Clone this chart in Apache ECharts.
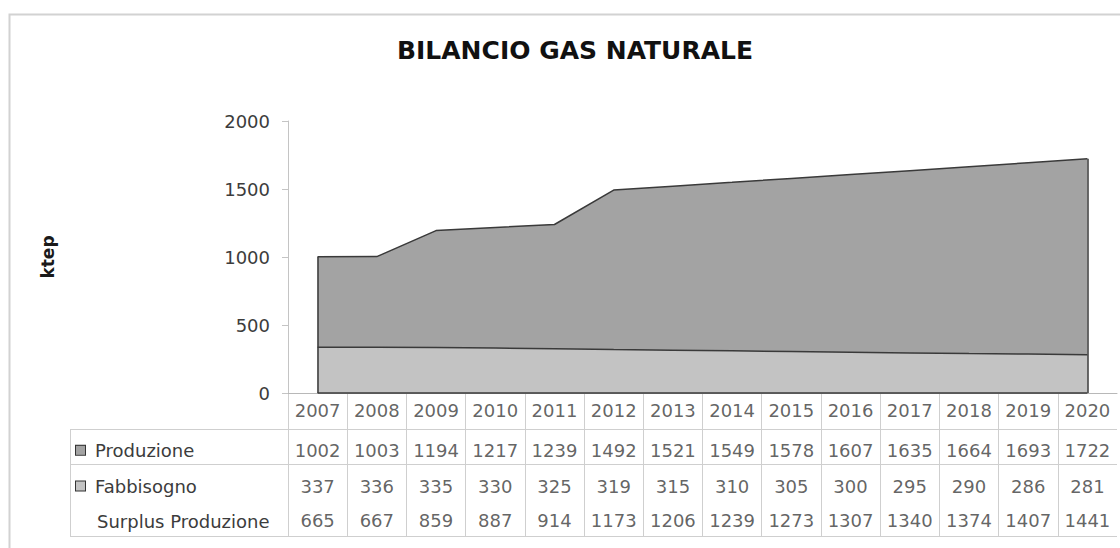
<!DOCTYPE html>
<html>
<head>
<meta charset="utf-8">
<script src="https://cdn.jsdelivr.net/npm/echarts@6/dist/echarts.min.js"></script>
<style>
  html, body { margin: 0; padding: 0; background: #fff; }
  #chart { width: 1120px; height: 548px; }
</style>
</head>
<body>
<div id="chart"></div>
<script>
// Bilancio gas naturale, ktep per anno
const years = ['2007', '2008', '2009', '2010', '2011', '2012', '2013', '2014', '2015', '2016', '2017', '2018', '2019', '2020'];
const produzione = [1002, 1003, 1194, 1217, 1239, 1492, 1521, 1549, 1578, 1607, 1635, 1664, 1693, 1722];
const fabbisogno = [337, 336, 335, 330, 325, 319, 315, 310, 305, 300, 295, 290, 286, 281];
const surplus = [665, 667, 859, 887, 914, 1173, 1206, 1239, 1273, 1307, 1340, 1374, 1407, 1441];
const seriesNames = ['Produzione', 'Fabbisogno', 'Surplus Produzione'];
const yTicks = { min: 0, max: 2000, interval: 500 };

const FONT = 'DejaVu Sans';
const TEXT = '#3c3c3c';
const BORDER = '#cfcfcf';
const NONE = 'rgba(0,0,0,0)';
const COL_PROD = '#a3a3a3';
const COL_FABB = '#c3c3c3';
const EDGE = '#3a3a3a';

// rows of the data table: header with the years, then one row per series
const tableRows = ['anno'].concat(seriesNames);
const tableValues = [years, produzione, fabbisogno, surplus];

// vertical cell borders: one per column boundary, the outer right one left open
const columnBorders = years.map(() => BORDER).concat([NONE]);

function rowSeries(rowIdx, dy) {
  return {
    type: 'scatter',
    xAxisIndex: 1,
    yAxisIndex: 1,
    symbolSize: 1,
    itemStyle: { color: NONE },
    silent: true,
    label: {
      show: true,
      position: 'inside',
      offset: [0, dy],
      fontFamily: FONT,
      fontSize: 18,
      color: TEXT,
      formatter: p => String(p.value[2])
    },
    data: years.map((y, i) => [y, tableRows[rowIdx], tableValues[rowIdx][i]])
  };
}

const last = years.length - 1;

const chart = echarts.init(document.getElementById('chart'), null, { renderer: 'svg' });
chart.setOption({
  animation: false,
  backgroundColor: '#fff',
  title: {
    text: 'BILANCIO GAS NATURALE',
    left: 570,
    textAlign: 'center',
    top: 33,
    textStyle: { fontFamily: FONT, fontWeight: 'bold', fontSize: 25, color: '#111' }
  },
  graphic: [{
    type: 'rect',
    shape: { x: 9.5, y: 14.5, width: 1130, height: 560 },
    style: { fill: NONE, stroke: '#d2d2d2', lineWidth: 2 },
    silent: true
  }],
  grid: [
    { left: 288, width: 829, top: 121, height: 272 },
    { left: 288, width: 829, top: 393, height: 143 },
    { left: 70, width: 218, top: 429, height: 107 }
  ],
  xAxis: [
    {
      gridIndex: 0,
      type: 'category',
      data: years,
      boundaryGap: true,
      axisLine: { show: true, lineStyle: { color: '#b8b8b8', width: 1 } },
      axisTick: { show: false },
      axisLabel: { show: false },
      splitLine: { show: false }
    },
    {
      gridIndex: 1,
      type: 'category',
      data: years,
      boundaryGap: true,
      axisLine: { show: false },
      axisTick: { show: false },
      axisLabel: { show: false },
      splitLine: { show: true, interval: 0, lineStyle: { color: columnBorders, width: 1 } }
    },
    {
      gridIndex: 2,
      type: 'value',
      min: 0,
      max: 1,
      interval: 1,
      axisLine: { show: false },
      axisTick: { show: false },
      axisLabel: { show: false },
      splitLine: { show: true, lineStyle: { color: [BORDER, NONE], width: 1 } }
    }
  ],
  yAxis: [
    {
      gridIndex: 0,
      type: 'value',
      min: yTicks.min,
      max: yTicks.max,
      interval: yTicks.interval,
      name: 'ktep',
      nameLocation: 'middle',
      nameGap: 232,
      nameRotate: 90,
      nameTextStyle: { fontFamily: FONT, fontWeight: 'bold', fontSize: 17, color: '#1a1a1a' },
      axisLine: { show: true, lineStyle: { color: '#c4c4c4', width: 1 } },
      axisTick: { show: true, length: 6, lineStyle: { color: '#c4c4c4' } },
      axisLabel: { margin: 18, fontFamily: FONT, fontSize: 18, color: TEXT, formatter: v => String(v) },
      splitLine: { show: false }
    },
    {
      gridIndex: 1,
      type: 'category',
      data: tableRows,
      inverse: true,
      boundaryGap: true,
      axisLine: { show: false },
      axisTick: { show: false },
      axisLabel: { show: false },
      splitLine: { show: true, interval: 0, lineStyle: { color: [BORDER, BORDER, BORDER, NONE, BORDER], width: 1 } }
    },
    {
      gridIndex: 2,
      type: 'category',
      data: seriesNames,
      inverse: true,
      boundaryGap: true,
      axisLine: { show: false },
      axisTick: { show: false },
      splitLine: { show: true, interval: 0, lineStyle: { color: [BORDER, BORDER, NONE, BORDER], width: 1 } },
      axisLabel: {
        inside: true,
        margin: 6,
        interval: 0,
        padding: [7, 0, 0, 0],
        formatter: (v, i) => (i === 0 ? '{kp|}' : i === 1 ? '{kf|}' : '{ks|}') + '{t|' + v + '}',
        rich: {
          kp: { width: 9, height: 9, backgroundColor: COL_PROD, borderColor: '#333', borderWidth: 1 },
          kf: { width: 9, height: 9, backgroundColor: COL_FABB, borderColor: '#333', borderWidth: 1 },
          ks: { width: 11, height: 9 },
          t: { fontFamily: FONT, fontSize: 18, color: TEXT, padding: [0, 0, 0, 10] }
        }
      }
    }
  ],
  series: [
    {
      name: seriesNames[0],
      type: 'line',
      xAxisIndex: 0,
      yAxisIndex: 0,
      data: produzione,
      symbol: 'none',
      lineStyle: { color: EDGE, width: 1.5 },
      areaStyle: { color: COL_PROD, opacity: 1 },
      z: 2,
      markLine: {
        silent: true,
        symbol: 'none',
        label: { show: false },
        lineStyle: { color: EDGE, width: 1.5, type: 'solid' },
        data: [
          [{ coord: [years[0], 0] }, { coord: [years[0], produzione[0]] }],
          [{ coord: [years[last], 0] }, { coord: [years[last], produzione[last]] }],
          [{ coord: [years[0], 0] }, { coord: [years[last], 0] }]
        ]
      }
    },
    {
      name: seriesNames[1],
      type: 'line',
      xAxisIndex: 0,
      yAxisIndex: 0,
      data: fabbisogno,
      symbol: 'none',
      lineStyle: { color: EDGE, width: 1.5 },
      areaStyle: { color: COL_FABB, opacity: 1 },
      z: 3
    },
    rowSeries(0, 0),
    rowSeries(1, 4),
    rowSeries(2, 4),
    rowSeries(3, 2)
  ]
});
</script>
</body>
</html>
